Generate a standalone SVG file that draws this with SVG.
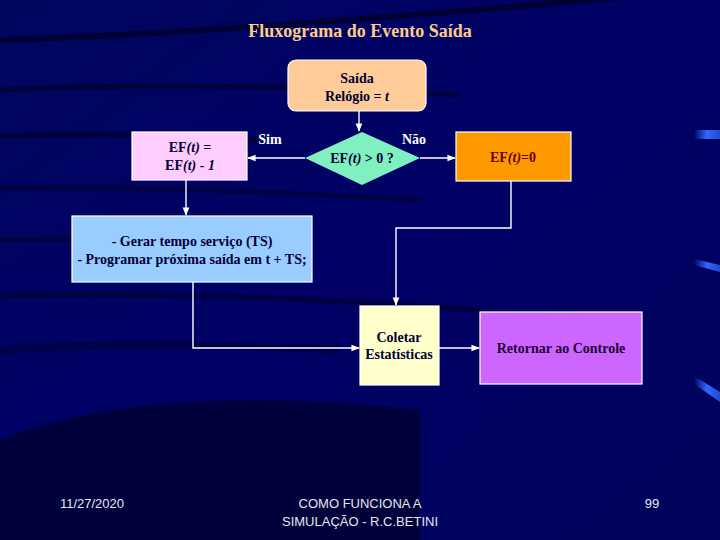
<svg xmlns="http://www.w3.org/2000/svg" width="720" height="540" viewBox="0 0 720 540">
<defs>
<style>
.box{stroke:#FFFFFF;stroke-width:1.2}
.t{font-family:'Liberation Serif','DejaVu Serif','Times New Roman',serif;font-weight:bold;font-size:14px;text-anchor:middle;fill:#000033}
.lbl{font-family:'Liberation Serif','DejaVu Serif','Times New Roman',serif;font-weight:bold;font-size:14px;fill:#FFFFFF}
.ft{font-family:'Liberation Sans',Arial,sans-serif;font-size:13px;fill:#E6E6F0;text-anchor:middle}
.c{fill:none;stroke:#FFFFFF;stroke-width:1.4}
</style>
<marker id="ah" viewBox="0 0 10 10" refX="9" refY="5" markerWidth="6" markerHeight="6" orient="auto">
<path d="M0,1 L10,5 L0,9 z" fill="#FFFFFF"/>
</marker>
<linearGradient id="bg" x1="0" y1="0" x2="1" y2="1">
<stop offset="0" stop-color="#00065E"/>
<stop offset="0.5" stop-color="#000066"/>
<stop offset="1" stop-color="#00045A"/>
</linearGradient>
<linearGradient id="blu" x1="0" y1="0" x2="1" y2="0">
<stop offset="0" stop-color="#3366FF" stop-opacity="0"/>
<stop offset="0.5" stop-color="#3366FF"/>
<stop offset="1" stop-color="#3366FF" stop-opacity="0.7"/>
</linearGradient>
</defs>
<g id="background">
<rect width="720" height="540" fill="url(#bg)"/>
<path d="M0,440 Q150,380 420,410 L420,540 L0,540 z" fill="#000022" opacity="0.6"/>
<path d="M0,40 Q300,30 800,-20" stroke="#000022" stroke-width="6" fill="none" opacity="0.7"/>
<path d="M0,90 Q200,80 460,95" stroke="#000022" stroke-width="5" fill="none" opacity="0.6"/>
<path d="M0,136 Q120,132 260,140" stroke="#000022" stroke-width="5" fill="none" opacity="0.6"/>
<path d="M0,188 Q150,185 420,200" stroke="#000022" stroke-width="5" fill="none" opacity="0.5"/>
<path d="M0,240 Q120,238 260,245" stroke="#000022" stroke-width="5" fill="none" opacity="0.5"/>
<path d="M0,296 Q200,290 480,310" stroke="#000022" stroke-width="6" fill="none" opacity="0.5"/>
<path d="M0,350 Q150,340 340,350" stroke="#000022" stroke-width="8" fill="none" opacity="0.4"/>
<rect x="694" y="130" width="26" height="9" fill="url(#blu)"/>
<path d="M694,259 L720,265 L720,272 L694,265 z" fill="url(#blu)"/>
<path d="M694,376 L720,392 L720,402 L694,384 z" fill="url(#blu)"/>
</g>
<text x="360" y="37" font-family="'Liberation Serif','DejaVu Serif','Times New Roman',serif" font-weight="bold" font-size="18" fill="#FFCC88" text-anchor="middle">Fluxograma do Evento Saída</text>
<g id="connectors">
<line class="c" x1="359" y1="110" x2="359" y2="131" marker-end="url(#ah)"/>
<line class="c" x1="305" y1="158" x2="248" y2="158" marker-end="url(#ah)"/>
<line class="c" x1="420" y1="158" x2="455" y2="158" marker-end="url(#ah)"/>
<line class="c" x1="186" y1="180" x2="186" y2="215" marker-end="url(#ah)"/>
<polyline class="c" points="511,181 511,228 396,228 396,305" marker-end="url(#ah)"/>
<polyline class="c" points="193,282 193,348 359,348" marker-end="url(#ah)"/>
<line class="c" x1="439" y1="348" x2="479" y2="348" marker-end="url(#ah)"/>
</g>
<text class="lbl" x="270" y="144" text-anchor="middle">Sim</text>
<text class="lbl" x="414" y="144" text-anchor="middle">Não</text>
<g id="saida">
<rect class="box" x="288" y="60" width="138" height="51" rx="8" fill="#FFCC99"/>
<text class="t" x="357" y="83">Saída</text>
<text class="t" x="357" y="101">Relógio = <tspan font-style="italic">t</tspan></text>
</g>
<g id="decisao">
<polygon points="305,158 362,132 420,158 362,185" fill="#80F0C0"/>
<text class="t" x="362" y="163">EF<tspan font-style="italic">(t)</tspan> &gt; 0 ?</text>
</g>
<g id="decrementa">
<rect class="box" x="132" y="132" width="115" height="48" fill="#FFCCFF"/>
<text class="t" x="190" y="152">EF<tspan font-style="italic">(t)</tspan> =</text>
<text class="t" x="190" y="170">EF<tspan font-style="italic">(t)</tspan> - <tspan font-style="italic">1</tspan></text>
</g>
<g id="zera">
<rect class="box" x="456" y="132" width="115" height="49" fill="#FF9900"/>
<text class="t" x="513" y="162" style="fill:#660000">EF<tspan font-style="italic">(t)</tspan>=0</text>
</g>
<g id="gerar">
<rect class="box" x="72" y="216" width="240" height="66" fill="#99CCFF"/>
<text class="t" x="192" y="246">- Gerar tempo serviço (TS)</text>
<text class="t" x="192" y="264">- Programar próxima saída em t + TS;</text>
</g>
<g id="coletar">
<rect class="box" x="360" y="306" width="79" height="79" fill="#FFFFCC"/>
<text class="t" x="399" y="342">Coletar</text>
<text class="t" x="399" y="359">Estatísticas</text>
</g>
<g id="retornar">
<rect class="box" x="480" y="312" width="162" height="72" fill="#CC66FF"/>
<text class="t" x="561" y="353" style="fill:#220033">Retornar ao Controle</text>
</g>
<g id="footer">
<text class="ft" x="92" y="508">11/27/2020</text>
<text class="ft" x="360" y="508">COMO FUNCIONA A</text>
<text class="ft" x="360" y="526">SIMULAÇÃO - R.C.BETINI</text>
<text class="ft" x="652" y="508">99</text>
</g>
</svg>
